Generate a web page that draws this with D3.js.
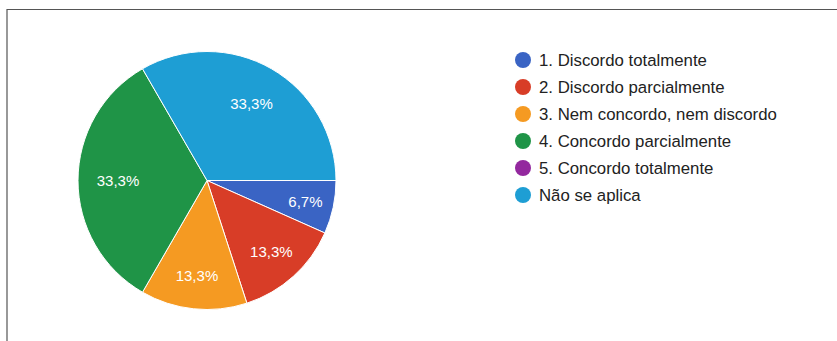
<!DOCTYPE html>
<html><head><meta charset="utf-8">
<script src="https://cdn.jsdelivr.net/npm/d3@7"></script>
<style>body{margin:0;background:#fff}svg{display:block}</style>
</head><body>
<svg id="c" width="837" height="341"></svg>
<script>
const categories = ["1. Discordo totalmente","2. Discordo parcialmente","3. Nem concordo, nem discordo","4. Concordo parcialmente","5. Concordo totalmente","Não se aplica"];
const values = [1, 2, 2, 5, 0, 5];
const colors = ["#3a64c4","#d83d27","#f59a22","#1f9447","#93289e","#1e9ed4"];

const svg = d3.select("#c");
// frame
svg.append("path").attr("d","M7,341V9.5H837").attr("fill","none").attr("stroke","#555").attr("stroke-width",1.2);

const cx = 207, cy = 180.5, r = 129;
const total = d3.sum(values);
const pie = d3.pie().sort(null).startAngle(Math.PI/2).endAngle(Math.PI/2 + 2*Math.PI);
const arcs = pie(values);
const arc = d3.arc().innerRadius(0).outerRadius(r);
const g = svg.append("g").attr("transform",`translate(${cx},${cy})`);
g.selectAll("path").data(arcs.filter(d=>d.value>0)).join("path")
  .attr("d",arc).attr("fill",d=>colors[d.index]).attr("stroke","#fff").attr("stroke-width",1);
const fmt = v => (v/total*100).toFixed(1).replace(".",",") + "%";
g.selectAll("text").data(arcs.filter(d=>d.value>0)).join("text")
  .attr("transform",d=>{
    const f = d.value/total;
    const k = f < 0.1 ? 0.78 : (f < 0.2 ? 0.745 : 0.69);
    const a = (d.startAngle+d.endAngle)/2;
    return `translate(${Math.sin(a)*r*k},${-Math.cos(a)*r*k})`;
  })
  .attr("text-anchor","middle").attr("dy","0.36em")
  .attr("fill","#fff").attr("font-family","Liberation Sans, Arial, sans-serif").attr("font-size",15)
  .text(d=>fmt(d.value));

const leg = svg.append("g").attr("transform","translate(523,60)");
const rows = leg.selectAll("g").data(categories).join("g").attr("transform",(d,i)=>`translate(0,${i*27})`);
rows.append("circle").attr("r",8).attr("fill",(d,i)=>colors[i]);
rows.append("text").attr("x",16).attr("dy","0.36em").attr("fill","#222")
  .attr("font-family","Liberation Sans, Arial, sans-serif").attr("font-size",16.8).text(d=>d);
</script>
</body></html>
